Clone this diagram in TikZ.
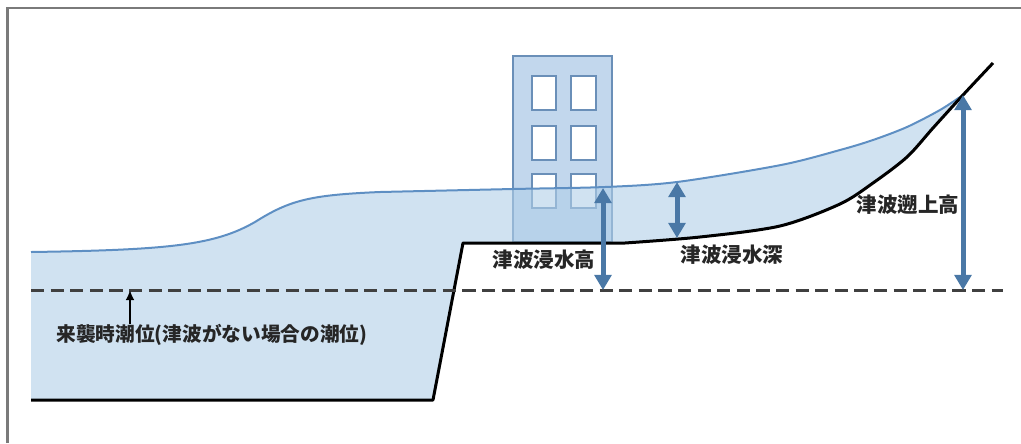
\documentclass[tikz,border=0pt]{standalone}
\usepackage{fontspec}
\usepackage{tikz}
\usetikzlibrary{arrows}
\usepgflibrary{arrows.meta}
\setmainfont{Noto Sans CJK JP}

\definecolor{waterc}{HTML}{B1CFE8}
\definecolor{surfc}{HTML}{5E8FC3}
\definecolor{bldfill}{HTML}{C2D7ED}
\definecolor{bldline}{HTML}{6A8FB8}
\definecolor{arrowc}{HTML}{4A78A6}
\definecolor{textc}{HTML}{262626}
\definecolor{framec}{HTML}{7A7A7A}

\tikzset{
  window/.style={fill=white,draw=bldline,line width=0.05cm},
  hgt/.style={arrowc,line width=0.125cm,{Triangle[width=0.42cm,length=0.38cm]}-{Triangle[width=0.42cm,length=0.38cm]}},
  lbl/.style={text=textc,font=\fontsize{14.6pt}{16pt}\selectfont\bfseries,inner sep=0pt}
}

\begin{document}
\begin{tikzpicture}[x=0.025cm,y=-0.025cm]
        \useasboundingbox (0,0) rectangle (1021,443);
        %外枠
        \draw [framec,line width=0.05cm] (7.5,443) -- (7.5,7.5) -- (1021,7.5);
        %建物
        \draw [fill=bldfill,draw=bldline,line width=0.05cm] (513,56) rectangle (612,242);
        \foreach \y in {76,126,174} {
            \draw [window] (532,\y) rectangle (556,\y+34);
            \draw [window] (571,\y) rectangle (596,\y+34);
        }
        %水域
        \fill [waterc,opacity=0.6] (31,400) -- (31,252) .. controls (170,250) and (215,245) .. (255,222)
            .. controls (290,200) and (310,195) .. (380,192)
            -- plot[smooth] coordinates {(380,192) (513,189) (605,187) (677,182) (781,165) (840,150) (873,140) (907,127) (940,110) (963,95)}
            -- plot[smooth] coordinates {(963,95) (933,128) (907,157) (873,183) (840,204) (780,226) (700,237) (625,243)}
            -- (463,243) -- (433,400) -- cycle;
        %水面
        \draw [surfc,line width=0.05cm] (31,252) .. controls (170,250) and (215,245) .. (255,222)
            .. controls (290,200) and (310,195) .. (380,192)
            -- plot[smooth] coordinates {(380,192) (513,189) (605,187) (677,182) (781,165) (840,150) (873,140) (907,127) (940,110) (963,95)};
        %地盤
        \draw [line width=0.075cm,line join=round] (31,400) -- (433,400) -- (463,243) -- (625,243)
            -- plot[smooth] coordinates {(625,243) (700,237) (780,226) (840,204) (873,183) (907,157) (933,128) (963,95) (993,63)};
        %潮位
        \draw [black!75,line width=0.075cm,dash pattern=on 0.33cm off 0.16cm] (31,290) -- (1003,290);
        %高さの矢印
        \coordinate (ht) at (603,188);
        \coordinate (hb) at (603,290);
        \coordinate (dt) at (677,182);
        \coordinate (db) at (677,238);
        \coordinate (rt) at (963,95);
        \coordinate (rb) at (963,290);
        \draw [hgt] (ht) -- (hb);
        \draw [hgt] (dt) -- (db);
        \draw [hgt] (rt) -- (rb);
        %文字
        \node [lbl] (inundh) at (544,260) {津波浸水高};
        \node [lbl] (inundd) at (732,255) {津波浸水深};
        \node [lbl] (runup) at (908,205) {津波遡上高};
        \node [lbl,font=\fontsize{14pt}{16pt}\selectfont\bfseries] (tide) at (212,335) {来襲時潮位(津波がない場合の潮位)};
        \coordinate (tidept) at (130,290);
        \coordinate (tidefoot) at (130,324);
        \draw [line width=0.06cm,-{Latex[length=0.25cm,width=0.22cm]}] (tidefoot) -- (tidept);
    \end{tikzpicture}
\end{document}
